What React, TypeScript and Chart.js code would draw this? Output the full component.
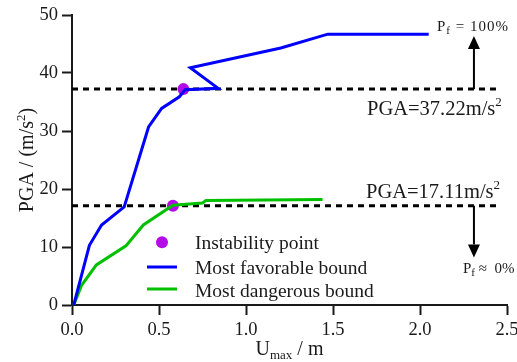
import React, { useEffect, useRef } from 'react';
import { Chart, registerables } from 'chart.js';

Chart.register(...registerables);

// ---- data ----
const favX = [0.01, 0.10, 0.17, 0.30, 0.44, 0.515, 0.617, 0.65, 0.84, 0.68, 1.20, 1.47, 2.05];
const favY = [0, 10.3, 13.8, 16.9, 30.7, 33.9, 35.9, 37.1, 37.35, 40.9, 44.3, 46.7, 46.7];
const danX = [0.01, 0.055, 0.14, 0.31, 0.41, 0.58, 0.75, 0.77, 1.44];
const danY = [0, 3.4, 6.9, 10.2, 13.8, 17.2, 17.6, 18.0, 18.2];
const instX = [0.64, 0.58];
const instY = [37.22, 17.11];
const thresholdY = [37.22, 17.11];
const thresholdXEnd = 2.45;
const xTicks = [0, 0.5, 1.0, 1.5, 2.0, 2.5];
const yTicks = [0, 10, 20, 30, 40, 50];
const legendLabels = ['Instability point', 'Most favorable bound', 'Most dangerous bound'];
const pgaLabels = ['PGA=37.22m/s', 'PGA=17.11m/s'];
const arrowX = 2.31;
const arrowTipY = [46.4, 8.2];

const FONT = '"Liberation Serif", "Times New Roman", serif';
const BLUE = '#0000ff';
const GREEN = '#00c000';
const PURPLE = '#b40ce6';
const INK = '#1a1a1a';

type Seg = { t: string; size: number; dy?: number };

function drawSegs(ctx: CanvasRenderingContext2D, segs: Seg[], x: number, y: number, ls = 0, align: 'left' | 'center' = 'left') {
  const widths = segs.map((s) => {
    ctx.font = `${s.size}px ${FONT}`;
    return ctx.measureText(s.t).width + ls * s.t.length;
  });
  const total = widths.reduce((a, b) => a + b, 0);
  let cx = align === 'center' ? x - total / 2 : x;
  segs.forEach((s, i) => {
    ctx.font = `${s.size}px ${FONT}`;
    if (ls) {
      let px = cx;
      for (const ch of s.t) {
        ctx.fillText(ch, px, y + (s.dy || 0));
        px += ctx.measureText(ch).width + ls;
      }
    } else {
      ctx.fillText(s.t, cx, y + (s.dy || 0));
    }
    cx += widths[i];
  });
}

const overlay = {
  id: 'overlay',
  afterDraw(chart: any) {
    const ctx: CanvasRenderingContext2D = chart.ctx;
    const xs = chart.scales.x;
    const ys = chart.scales.y;
    ctx.save();
    ctx.fillStyle = INK;
    ctx.textAlign = 'left';
    ctx.textBaseline = 'alphabetic';

    // axis titles
    drawSegs(ctx, [
      { t: 'U', size: 20 },
      { t: 'max', size: 13, dy: 4 },
      { t: ' / m', size: 20 },
    ], (xs.left + xs.right) / 2, 355, 0, 'center');

    ctx.save();
    ctx.translate(33, (ys.top + ys.bottom) / 2);
    ctx.rotate(-Math.PI / 2);
    drawSegs(ctx, [
      { t: 'PGA / (m/s', size: 20 },
      { t: '2', size: 13, dy: -8 },
      { t: ')', size: 20 },
    ], 0, 0, 0, 'center');
    ctx.restore();

    // PGA labels
    drawSegs(ctx, [{ t: pgaLabels[0], size: 20.5 }, { t: '2', size: 13, dy: -9 }], 367, 115);
    drawSegs(ctx, [{ t: pgaLabels[1], size: 20.5 }, { t: '2', size: 13, dy: -9 }], 366, 197.5);

    // Pf labels
    drawSegs(ctx, [{ t: 'P', size: 15 }, { t: 'f', size: 11, dy: 3 }, { t: ' = 100%', size: 15 }], 437, 31, 1.0);
    drawSegs(ctx, [{ t: 'P', size: 15 }, { t: 'f', size: 11, dy: 3 }, { t: ' \u2248  0%', size: 15 }], 463, 273);

    // arrows
    const ax = xs.getPixelForValue(arrowX);
    const drawArrow = (fromV: number, tipV: number) => {
      const y0 = ys.getPixelForValue(fromV);
      const yt = ys.getPixelForValue(tipV);
      const dir = yt < y0 ? 1 : -1; // 1 = up
      const head = 13;
      const hb = yt + dir * head;
      ctx.strokeStyle = '#000';
      ctx.lineWidth = 2;
      ctx.beginPath();
      ctx.moveTo(ax, y0);
      ctx.lineTo(ax, hb);
      ctx.stroke();
      ctx.fillStyle = '#000';
      ctx.beginPath();
      ctx.moveTo(ax, yt);
      ctx.lineTo(ax - 6, hb);
      ctx.lineTo(ax + 6, hb);
      ctx.closePath();
      ctx.fill();
    };
    drawArrow(thresholdY[0], arrowTipY[0]);
    drawArrow(thresholdY[1], arrowTipY[1]);

    // legend
    ctx.fillStyle = PURPLE;
    ctx.beginPath();
    ctx.arc(162, 242.3, 6, 0, Math.PI * 2);
    ctx.fill();
    ctx.lineWidth = 3;
    ctx.strokeStyle = BLUE;
    ctx.beginPath();
    ctx.moveTo(147, 267);
    ctx.lineTo(177, 267);
    ctx.stroke();
    ctx.strokeStyle = GREEN;
    ctx.beginPath();
    ctx.moveTo(147, 289);
    ctx.lineTo(177, 289);
    ctx.stroke();
    ctx.fillStyle = INK;
    const lb = [249, 274, 296.7];
    legendLabels.forEach((l, i) => drawSegs(ctx, [{ t: l, size: 19.5 }], 195, lb[i]));

    ctx.restore();
  },
};

export default function App() {
  const ref = useRef<HTMLCanvasElement>(null);
  useEffect(() => {
    if (!ref.current) return;
    const pts = (xa: number[], ya: number[]) => xa.map((x, i) => ({ x, y: ya[i] }));
    const axisCommon = {
      type: 'linear' as const,
      grid: {
        drawOnChartArea: false,
        drawTicks: true,
        tickLength: 10,
        tickWidth: 2,
        tickColor: INK,
      },
      border: { display: true, color: INK, width: 2 },
    };
    const chart = new Chart(ref.current, {
      type: 'scatter',
      data: {
        datasets: [
          {
            data: pts(favX, favY),
            showLine: true,
            borderColor: BLUE,
            borderWidth: 3,
            pointRadius: 0,
            fill: false,
            tension: 0,
            order: 1,
          } as any,
          {
            data: pts(danX, danY),
            showLine: true,
            borderColor: GREEN,
            borderWidth: 3,
            pointRadius: 0,
            fill: false,
            tension: 0,
            order: 2,
          },
          {
            data: pts(instX, instY),
            showLine: false,
            pointRadius: 6,
            pointBackgroundColor: PURPLE,
            pointBorderWidth: 0,
            backgroundColor: PURPLE,
            order: 3,
          },
          ...thresholdY.map((y) => ({
            data: [{ x: 0, y }, { x: thresholdXEnd, y }],
            showLine: true,
            borderColor: '#000',
            borderWidth: 3,
            borderDash: [6, 5],
            pointRadius: 0,
            fill: false,
            order: 4,
          })),
        ],
      },
      options: {
        responsive: false,
        animation: false,
        layout: { padding: { top: 15, right: 10, left: 0, bottom: 0 } },
        plugins: { legend: { display: false }, tooltip: { enabled: false } },
        scales: {
          x: {
            ...axisCommon,
            min: 0,
            max: 2.5,
            afterBuildTicks: (s: any) => { s.ticks = xTicks.map((v) => ({ value: v })); },
            afterFit: (s: any) => { s.height = 57; s.paddingLeft = 0; s.paddingRight = 0; },
            ticks: {
              color: INK,
              padding: 4,
              font: { family: FONT, size: 18.5 },
              callback: (v: any) => Number(v).toFixed(1),
            },
          },
          y: {
            ...axisCommon,
            min: 0,
            max: 50,
            afterBuildTicks: (s: any) => { s.ticks = yTicks.map((v) => ({ value: v })); },
            afterFit: (s: any) => { s.width = 72; s.paddingTop = 0; s.paddingBottom = 0; },
            ticks: {
              color: INK,
              padding: 4,
              font: { family: FONT, size: 18.5 },
              callback: (v: any) => String(v),
            },
          },
        },
      } as any,
      plugins: [overlay],
    });
    return () => chart.destroy();
  }, []);
  return (
    <div style={{ position: 'fixed', left: 0, top: 0, width: 517, height: 362, background: '#fff' }}>
      <canvas ref={ref} width={517} height={362} style={{ display: 'block' }} />
    </div>
  );
}
